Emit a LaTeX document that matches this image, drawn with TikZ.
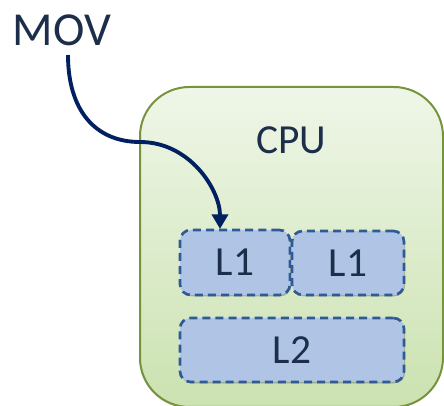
\documentclass[tikz,border=0pt]{standalone}
\usepackage{fontspec}
\setmainfont{Carlito}
\usetikzlibrary{shadows,arrows.meta}
\definecolor{txtnavy}{HTML}{1C2E4A}
\definecolor{arrnavy}{HTML}{002060}
\definecolor{cputop}{HTML}{EFF6E8}
\definecolor{cpubot}{HTML}{CBE2B0}
\definecolor{cpuedge}{HTML}{77933C}
\definecolor{cachefill}{HTML}{B0C5E5}
\definecolor{cacheedge}{HTML}{2F5A96}
\tikzset{
  cpubox/.style={draw=cpuedge, line width=1.5pt, rounded corners=37pt,
    top color=cputop, bottom color=cpubot, inner sep=0pt,
    drop shadow={shadow xshift=-0.6pt, shadow yshift=-0.8pt, opacity=0.18, fill=black}},
  cache/.style={draw=cacheedge, fill=cachefill, line width=2pt,
    dash pattern=on 6pt off 3.8pt, rounded corners=8pt, inner sep=0pt,
    text=txtnavy, font=\fontsize{31}{36}\selectfont,
    drop shadow={shadow xshift=0.8pt, shadow yshift=-1pt, opacity=0.25, fill=black}},
  label/.style={text=txtnavy, inner sep=0pt},
  flow/.style={draw=arrnavy, line width=2.9pt, -{Triangle[length=11pt,width=12pt]}}
}
\begin{document}
\begin{tikzpicture}[x=0.75pt,y=-0.75pt]
\useasboundingbox (0,0) rectangle (444,406);
\begin{scope}
\clip (0,0) rectangle (444,406);
\node[cpubox, minimum width=227.25pt, minimum height=240pt] (cpu) at (291.5,247) {};
\end{scope}
\node[label, font=\fontsize{31}{36}\selectfont] (cpulabel) at (291,140) {CPU};
\node[cache, minimum width=82.5pt, minimum height=48.75pt] (l1a) at (235,262.5) {L1};
\node[cache, minimum width=84pt, minimum height=48pt] (l1b) at (348,263) {L1};
\node[cache, minimum width=168pt, minimum height=48pt] (l2) at (292,350) {L2};
\node[label, font=\fontsize{35.5}{40}\selectfont] (mov) at (62,30) {MOV};
\coordinate (src) at (68,55);
\coordinate (bend) at (140,142);
\coordinate (dst) at (220,229);
\draw[flow] (src) .. controls (68,110) and (95,142) .. (bend)
  .. controls (190,142) and (220,190) .. (dst);
\end{tikzpicture}
\end{document}
